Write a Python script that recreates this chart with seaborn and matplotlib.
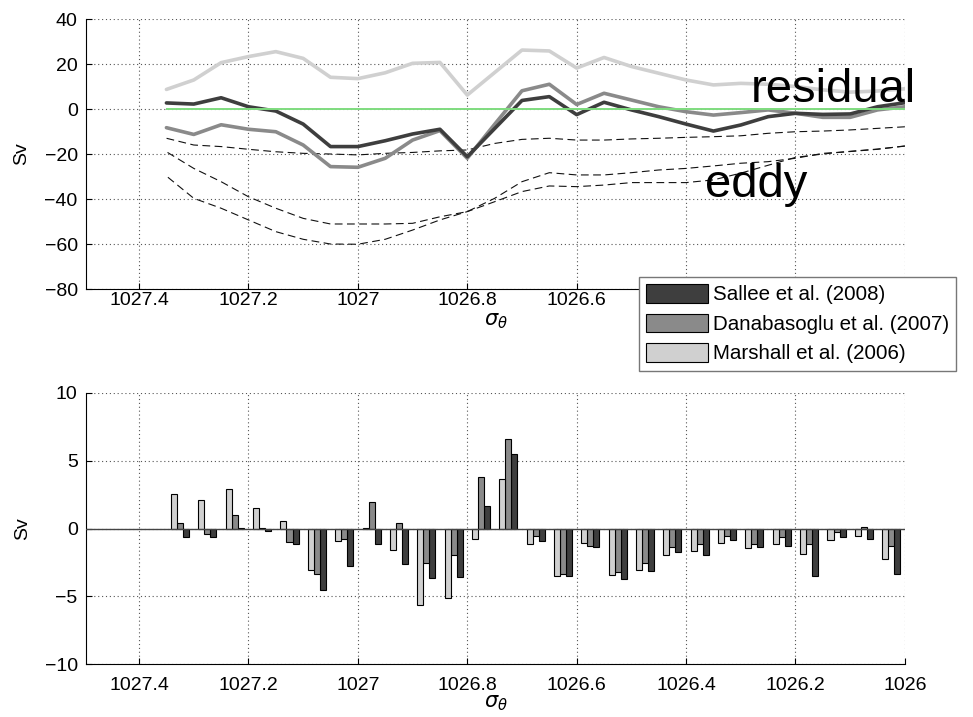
import matplotlib
matplotlib.use("Agg")
import matplotlib.pyplot as plt
from matplotlib.patches import Patch
from matplotlib.ticker import FuncFormatter
import pandas as pd
import seaborn as sns

# density classes for the transport curves (top panel)
sigma_line = [1027.35, 1027.30, 1027.25, 1027.20, 1027.15, 1027.10, 1027.05, 1027.00,
              1026.95, 1026.90, 1026.85, 1026.80, 1026.75, 1026.70, 1026.65, 1026.60,
              1026.55, 1026.50, 1026.45, 1026.40, 1026.35, 1026.30, 1026.25, 1026.20,
              1026.15, 1026.10, 1026.05, 1026.00]

sallee_line = [2.7, 2.2, 5.0, 1.0, -0.9, -6.7, -16.7, -16.7, -14.1, -11.1, -9.0, -21.2, -8.7, 3.8,
               5.5, -2.5, 3.0, -0.4, -3.4, -6.7, -9.8, -7.1, -3.4, -1.9, -2.4, -2.2, 1.0, 2.8]
dana_line = [-8.3, -11.3, -7.0, -9.0, -10.1, -16.0, -25.6, -25.9, -21.9, -13.8, -9.6, -21.9, -6.8, 8.1,
             11.0, 2.0, 7.0, 4.0, 1.0, -1.2, -2.7, -1.6, -0.4, -1.9, -3.7, -3.7, -0.4, 1.0]
marshall_line = [8.7, 12.9, 20.6, 23.3, 25.5, 22.5, 14.1, 13.5, 16.1, 20.3, 20.7, 6.2, 16.2, 26.2,
                 25.8, 18.2, 22.9, 18.9, 15.9, 12.9, 10.7, 11.4, 11.0, 10.0, 8.5, 7.5, 8.0, 9.0]

# eddy-induced transports (dashed)
eddy_a = [-13.0, -16.0, -16.7, -17.9, -19.0, -19.7, -20.0, -20.4, -19.7, -19.3, -18.6, -18.2, -15.3, -13.5,
          -13.0, -13.8, -13.8, -13.3, -13.0, -12.6, -12.3, -11.9, -10.8, -10.1, -9.8, -9.3, -8.6, -7.9]
eddy_b = [-19.0, -26.4, -32.3, -39.0, -44.1, -48.6, -51.1, -51.1, -51.1, -50.8, -47.9, -45.6, -39.7, -32.3,
          -28.3, -29.3, -29.3, -28.3, -27.1, -26.4, -25.3, -24.1, -23.4, -21.9, -19.7, -18.9, -17.9, -16.4]
eddy_c = [-29.8, -39.7, -44.1, -49.3, -54.5, -57.9, -60.0, -60.1, -57.9, -53.8, -49.3, -45.6, -41.2, -36.7,
          -34.2, -34.5, -33.8, -32.7, -32.7, -32.7, -31.5, -28.5, -25.0, -21.5, -20.0, -18.8, -17.8, -16.5]

# bottom panel, bar centres
sigma_bar = [1027.325, 1027.275, 1027.225, 1027.175, 1027.125, 1027.075, 1027.025, 1026.975, 1026.925,
             1026.875, 1026.825, 1026.775, 1026.725, 1026.675, 1026.625, 1026.575, 1026.525, 1026.475,
             1026.425, 1026.375, 1026.325, 1026.275, 1026.225, 1026.175, 1026.125, 1026.075, 1026.025]

marshall_bar = [2.51, 2.09, 2.93, 1.48, 0.59, -3.08, -0.89, 0.07, -1.60, -5.67, -5.10, -0.81, 3.62, -1.16,
                -3.52, -1.06, -3.45, -3.03, -1.97, -1.65, -1.06, -1.45, -1.18, -1.85, -0.86, -0.52, -2.22]
dana_bar = [0.44, -0.44, 0.96, 0.02, -1.01, -3.35, -0.81, 1.92, 0.44, -2.51, -1.97, 3.77, 6.63, -0.57,
            -3.33, -1.31, -3.20, -2.51, -1.38, -1.18, -0.59, -1.18, -0.62, -1.13, -0.27, 0.12, -1.31]
sallee_bar = [-0.66, -0.62, 0.07, -0.15, -1.13, -4.53, -2.76, -1.13, -2.64, -3.67, -3.55, 1.63, 5.47, -0.94,
              -3.47, -1.40, -3.72, -3.15, -1.77, -1.92, -0.86, -1.40, -1.26, -3.47, -0.66, -0.74, -3.33]

sources = ["Sallee et al. (2008)", "Danabasoglu et al. (2007)", "Marshall et al. (2006)"]
colors = ["#3e3e3e", "#8a8a8a", "#d0d0d0"]
x_ticks = [1027.4, 1027.2, 1027.0, 1026.8, 1026.6, 1026.4, 1026.2, 1026.0]

sns.set_theme(style="white")
plt.rcParams["font.family"] = ["Liberation Sans", "DejaVu Sans"]
plt.rcParams["mathtext.fontset"] = "dejavusans"
for key in ["text.color", "axes.labelcolor", "xtick.color", "ytick.color"]:
    plt.rcParams[key] = "black"


def fmt_tick(v, _):
    return f"{v:g}".replace("-", "\u2212")


def style_axes(ax, ylim, yticks, xpad):
    ax.set_xlim(1027.497, 1026.0)
    ax.set_ylim(*ylim)
    ax.set_xticks(x_ticks)
    ax.set_yticks(yticks)
    ax.xaxis.set_major_formatter(FuncFormatter(fmt_tick))
    ax.yaxis.set_major_formatter(FuncFormatter(fmt_tick))
    ax.grid(True, linestyle=(0, (1, 2.5)), color="#555555", linewidth=0.8)
    ax.tick_params(direction="in", length=4, width=0.8, labelsize=14, colors="black",
                   left=True, bottom=True)
    ax.tick_params(axis="x", pad=xpad)
    ax.tick_params(axis="y", pad=6)
    for side in ["top", "right"]:
        ax.spines[side].set_visible(False)
    for side in ["left", "bottom"]:
        ax.spines[side].set_color("black")
        ax.spines[side].set_linewidth(0.8)
    ax.set_ylabel("Sv", fontsize=14, labelpad=10)


fig = plt.figure(figsize=(9.73, 7.17), dpi=100)
ax1 = fig.add_axes([0.0884, 0.5969, 0.8416, 0.3766])
ax2 = fig.add_axes([0.0884, 0.0739, 0.8416, 0.3780])

for vals, col in zip([marshall_line, dana_line, sallee_line], colors[::-1]):
    sns.lineplot(x=sigma_line, y=vals, color=col, linewidth=2.6, ax=ax1, zorder=3)
for vals in [eddy_a, eddy_b, eddy_c]:
    sns.lineplot(x=sigma_line, y=vals, color="#111111", linewidth=0.8, linestyle=(0, (7, 4)),
                 ax=ax1, zorder=2)
ax1.hlines(0, sigma_line[-1], sigma_line[0], color="#7fdc7f", linewidth=1.4, zorder=4)
ax1.text(1026.281, 3.2, "residual", fontsize=34, color="black", ha="left", va="baseline", zorder=6)
ax1.text(1026.366, -39.0, "eddy", fontsize=34, color="black", ha="left", va="baseline", zorder=6)
style_axes(ax1, (-80, 40), [-80, -60, -40, -20, 0, 20, 40], 2)
# the legend box covers the right-hand tick labels of the upper panel
ax1.set_xticklabels([fmt_tick(t, None) if t > 1026.5 else "" for t in x_ticks])
ax1.set_xlabel(r"$\sigma_\theta$", fontsize=15, labelpad=2)

bar_df = pd.DataFrame({
    "sigma": sigma_bar * 3,
    "Sv": sallee_bar + dana_bar + marshall_bar,
    "source": [sources[0]] * len(sigma_bar) + [sources[1]] * len(sigma_bar) + [sources[2]] * len(sigma_bar),
})
sns.barplot(data=bar_df, x="sigma", y="Sv", hue="source", hue_order=sources, palette=colors,
            native_scale=True, width=0.66, errorbar=None, saturation=1, edgecolor="black",
            linewidth=0.8, legend=False, ax=ax2, zorder=3)
ax2.axhline(0, color="#444444", linewidth=1.0, zorder=4)
style_axes(ax2, (-10, 10), [-10, -5, 0, 5, 10], 9)
ax2.set_xlabel(r"$\sigma_\theta$", fontsize=15, labelpad=0)

handles = [Patch(facecolor=c, edgecolor="black", linewidth=0.8) for c in colors]
leg = fig.legend(handles, sources, loc="upper left", bbox_to_anchor=(639 / 973, 1 - 277 / 717),
                 fontsize=14.8, frameon=True, fancybox=False, framealpha=1, edgecolor="#777777",
                 handlelength=3.0, handleheight=1.0, handletextpad=0.25, labelspacing=0.45,
                 borderpad=0.35, borderaxespad=0)
leg.get_frame().set_linewidth(1.0)

fig.savefig("out.png", dpi=100, facecolor="white")
